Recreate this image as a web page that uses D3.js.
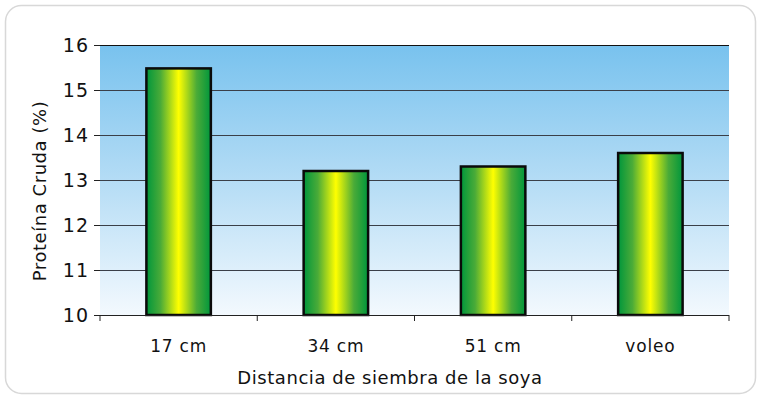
<!DOCTYPE html>
<html>
<head>
<meta charset="utf-8">
<script src="https://cdn.jsdelivr.net/npm/d3@7"></script>
<style>
  html, body { margin: 0; padding: 0; background: #fff; }
  svg { display: block; }
  text { font-family: "DejaVu Sans", "Liberation Sans", sans-serif; fill: #111; }
</style>
</head>
<body>
<svg id="chart" width="760" height="398"></svg>
<script>
// Crude protein by soybean row spacing
const categories = ["17 cm", "34 cm", "51 cm", "voleo"];
const protein = [15.48, 13.2, 13.3, 13.6];
const yTicks = [10, 11, 12, 13, 14, 15, 16];
const yTitle = "Proteína Cruda (%)";
const xTitle = "Distancia de siembra de la soya";

const svg = d3.select("#chart");
const W = 760, H = 398;
const m = { left: 100, right: 31, top: 45, bottom: 83 };
const pw = W - m.left - m.right;
const ph = H - m.top - m.bottom;

const defs = svg.append("defs");
const bg = defs.append("linearGradient").attr("id", "plotBg")
  .attr("x1", 0).attr("y1", 0).attr("x2", 0).attr("y2", 1);
bg.append("stop").attr("offset", 0).attr("stop-color", "#78c2ee");
bg.append("stop").attr("offset", 0.5).attr("stop-color", "#b4dcf5");
bg.append("stop").attr("offset", 1).attr("stop-color", "#f3f9fe");

const barG = defs.append("linearGradient").attr("id", "barFill")
  .attr("x1", 0).attr("y1", 0).attr("x2", 1).attr("y2", 0);
[[0, "#00963c"], [0.22, "#4aab38"], [0.5, "#ffff00"], [0.78, "#4aab38"], [1, "#00963c"]]
  .forEach(([o, c]) => barG.append("stop").attr("offset", o).attr("stop-color", c));

// card frame
svg.append("rect").attr("x", 5.5).attr("y", 5.5).attr("width", 750).attr("height", 388)
  .attr("rx", 16).attr("fill", "#fff").attr("stroke", "#d8d8d8").attr("stroke-width", 1.5);

const g = svg.append("g").attr("transform", `translate(${m.left},${m.top})`);

const x = d3.scaleBand().domain(categories).range([0, pw]).paddingInner(0.59).paddingOuter(0.295);
const xOuter = d3.scaleBand().domain(categories).range([0, pw]);
const y = d3.scaleLinear().domain([10, 16]).range([ph, 0]);

g.append("rect").attr("width", pw).attr("height", ph).attr("fill", "url(#plotBg)");

// gridlines
g.append("g").selectAll("line").data(yTicks.filter(t => t > 10)).join("line")
  .attr("x1", 0).attr("x2", pw)
  .attr("y1", d => Math.round(y(d)) + 0.5).attr("y2", d => Math.round(y(d)) + 0.5)
  .attr("stroke", d => d === 16 ? "#111" : "#3a3f48").attr("stroke-width", 1.2);

// y axis
const yAxis = g.append("g")
  .call(d3.axisLeft(y).tickValues(yTicks).tickSize(6).tickPadding(5).tickFormat(d3.format("d")));
yAxis.select(".domain").remove();
yAxis.selectAll("line").attr("stroke", "#222");
yAxis.selectAll("text").attr("font-size", 19).attr("letter-spacing", 1).attr("fill", "#111");

// bars
g.append("g").selectAll("rect").data(protein).join("rect")
  .attr("x", (d, i) => x(categories[i]))
  .attr("width", x.bandwidth())
  .attr("y", d => y(d))
  .attr("height", d => y(10) - y(d))
  .attr("fill", "url(#barFill)")
  .attr("stroke", "#0a0a0a").attr("stroke-width", 2.5);

// x axis
const xAxisG = g.append("g").attr("transform", `translate(0,${ph})`);
xAxisG.append("line").attr("x1", 0).attr("x2", pw).attr("y1", 0.5).attr("y2", 0.5)
  .attr("stroke", "#222").attr("stroke-width", 1.2);
const bounds = [0].concat(categories.map(c => xOuter(c) + xOuter.bandwidth()));
xAxisG.selectAll("line.tk").data(bounds).join("line").attr("class", "tk")
  .attr("x1", d => d).attr("x2", d => d).attr("y1", 0).attr("y2", 6)
  .attr("stroke", "#222");
xAxisG.selectAll("text").data(categories).join("text")
  .attr("x", d => xOuter(d) + xOuter.bandwidth() / 2)
  .attr("y", 37).attr("text-anchor", "middle").attr("font-size", 17)
  .attr("letter-spacing", 0.8)
  .text(d => d);

// titles
svg.append("text").attr("x", 390).attr("y", 384).attr("text-anchor", "middle")
  .attr("font-size", 18).attr("letter-spacing", 0.55).text(xTitle);
svg.append("text").attr("transform", "translate(46,191) rotate(-90)")
  .attr("text-anchor", "middle").attr("font-size", 18).attr("letter-spacing", 0.55).text(yTitle);
</script>
</body>
</html>
